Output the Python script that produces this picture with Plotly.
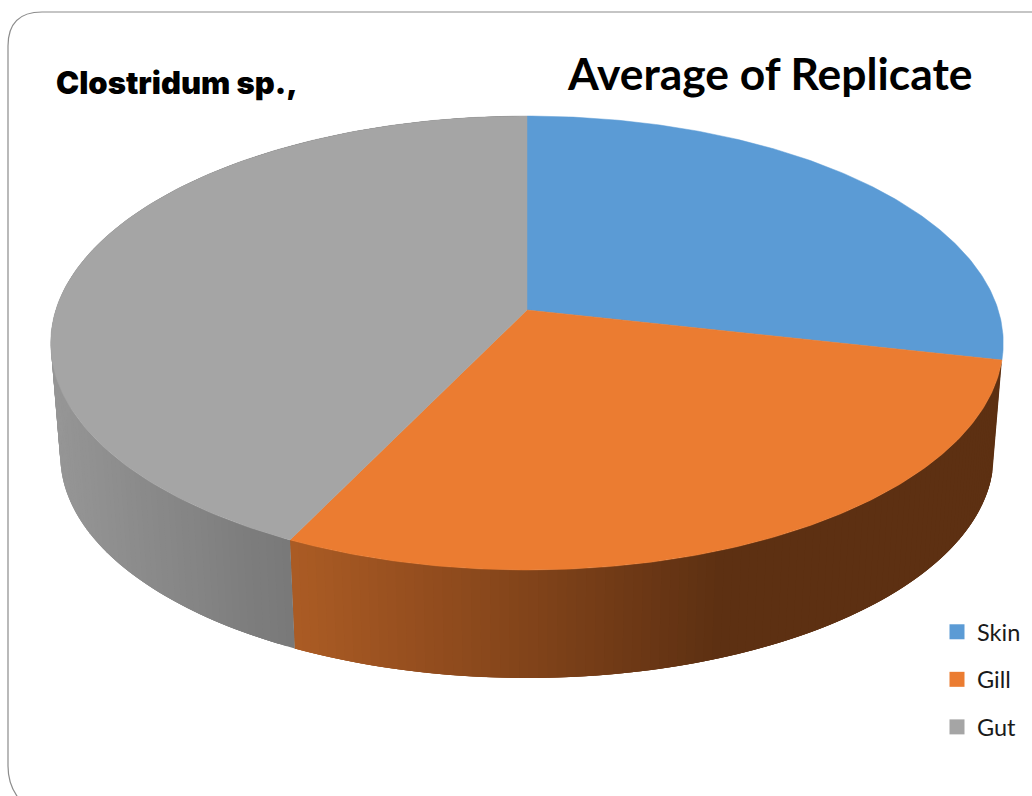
import numpy as np
import plotly.graph_objects as go

# Chart data
categories = ["Skin", "Gill", "Gut"]
values = [28.5, 28.7, 42.8]
face_colors = ["#5B9BD5", "#EB7C31", "#A5A5A5"]
chart_title = "Average of Replicate"
organism_label = "Clostridum sp.,"

# Side-wall shading: (pixel x, rgb) stops for each slice that shows a wall
wall_shading = {
    "Gill": [(297, (170, 91, 36)), (500, (135, 70, 27)), (720, (93, 48, 18)), (1000, (93, 48, 18))],
    "Gut": [(50, (150, 150, 150)), (290, (120, 120, 120))],
}

W, H = 1032, 796
CX, CY = 527.0, 310.0      # where the pie's centre lands on the page
TILT = 0.1454              # foreshortening from front to back
SCALE_X = 471.2
SCALE_Y = 177.1
DEPTH_SCALE = 0.98         # bottom rim shrinks toward the vanishing point
VANISH_Y = 5970.0


def top_rim(angle):
    """Project an angle (clockwise from 12 o'clock) onto the tilted top face."""
    u, v = np.sin(angle), np.cos(angle)
    w = 1 + TILT * v
    return CX + SCALE_X * u / w, (CY - SCALE_Y * v) / w


def bottom_rim(angle):
    x, y = top_rim(angle)
    return CX + (x - CX) * DEPTH_SCALE, VANISH_Y + (y - VANISH_Y) * DEPTH_SCALE


def shade(stops, x):
    xs = [s[0] for s in stops]
    rgb = [float(np.interp(x, xs, [s[1][i] for s in stops])) for i in range(3)]
    return "rgb({:.0f},{:.0f},{:.0f})".format(*rgb)


shares = np.array(values) / sum(values)
edges = np.concatenate([[0.0], np.cumsum(shares)]) * 2 * np.pi

fig = go.Figure()

# Side walls first. Each band reaches over the next two, so the later bands
# paint over the shared edges and no seams show along the rim.
for name, start, end in zip(categories, edges[:-1], edges[1:]):
    if name not in wall_shading:
        continue
    n = max(3, int((end - start) / np.radians(1.0)))
    angles = np.linspace(start, end, n + 1)
    for i in range(n):
        a0, a1 = angles[i], angles[min(i + 3, n)]
        arc = np.linspace(a0, a1, 8)
        xt, yt = top_rim(arc)
        xb, yb = bottom_rim(arc[::-1])
        col = shade(wall_shading[name], float(top_rim((angles[i] + angles[i + 1]) / 2)[0]))
        fig.add_trace(go.Scatter(
            x=np.concatenate([xt, xb, xt[:1]]), y=np.concatenate([yt, yb, yt[:1]]),
            mode="lines", fill="toself", fillcolor=col,
            line=dict(width=0),
            showlegend=False, hoverinfo="skip",
        ))

# Top faces of the slices
for name, start, end, col in zip(categories, edges[:-1], edges[1:], face_colors):
    angles = np.linspace(start, end, 160)
    xs, ys = top_rim(angles)
    fig.add_trace(go.Scatter(
        x=np.concatenate([[CX], xs, [CX]]), y=np.concatenate([[CY], ys, [CY]]),
        mode="lines", fill="toself", fillcolor=col,
        line=dict(color=col, width=0.5),
        name=name, showlegend=False, hoverinfo="name",
    ))

# Legend entries
for name, col in zip(categories, face_colors):
    fig.add_trace(go.Scatter(
        x=[None], y=[None], mode="markers", name=name, legendgroup=name,
        marker=dict(symbol="square", size=15, color=col),
    ))

fig.update_layout(
    width=W, height=H,
    margin=dict(l=0, r=0, t=0, b=0),
    paper_bgcolor="white", plot_bgcolor="white",
    xaxis=dict(range=[0, W], visible=False, fixedrange=True),
    yaxis=dict(range=[H, 0], visible=False, fixedrange=True),
    legend=dict(
        x=937 / W, y=1 - 610 / H, xanchor="left", yanchor="top",
        traceorder="grouped", tracegroupgap=14, itemwidth=30,
        bgcolor="rgba(0,0,0,0)",
        font=dict(family="Lato", size=23.5, color="#1a1a1a"),
    ),
    shapes=[dict(
        type="path", xref="x", yref="y",
        path="M 1040 12 L 42 12 Q 8 12 8 46 L 8 766 Q 8 786 20 800",
        line=dict(color="#8c8c8c", width=1.2),
    )],
    annotations=[
        dict(x=564.5, y=72, text=chart_title, showarrow=False, xanchor="left", yanchor="middle",
             xref="x", yref="y",
             font=dict(family="Lato", size=44.4, color="black", weight="bold")),
        dict(x=53.5, y=82, text=organism_label, showarrow=False, xanchor="left", yanchor="middle",
             xref="x", yref="y",
             font=dict(family="Inter", size=31, color="black", weight=900)),
    ],
)

fig.write_html("out.html")
